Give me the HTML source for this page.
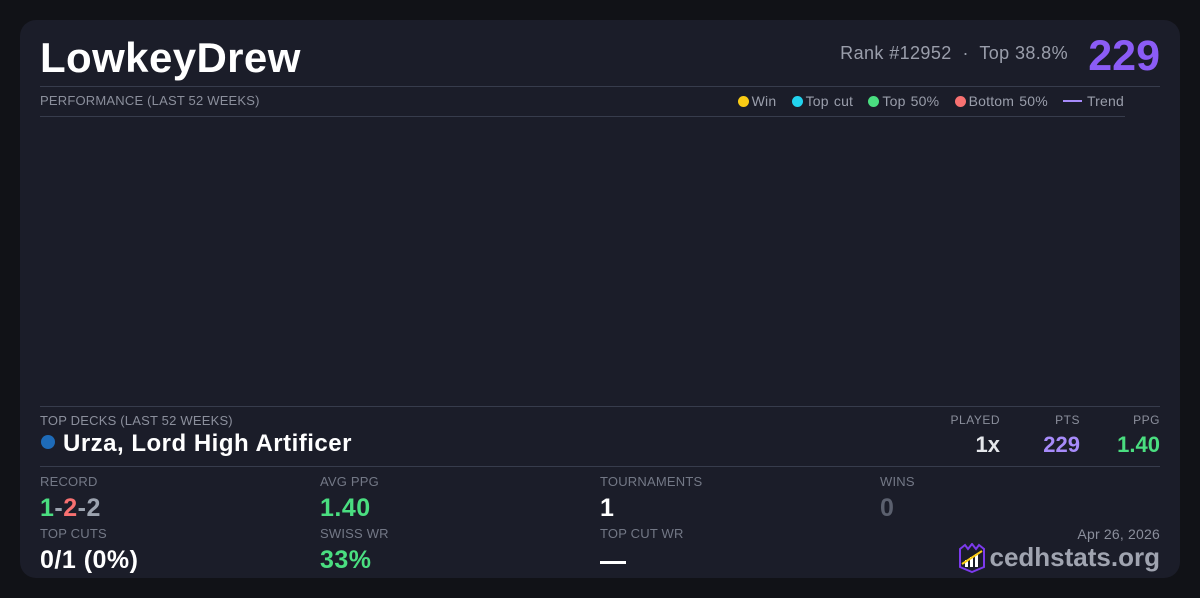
<!DOCTYPE html>
<html><head><style>
body{margin:0;width:1200px;height:598px;background:#111217;font-family:"Liberation Sans",sans-serif;position:relative;overflow:hidden}
.card{position:absolute;left:20px;top:20px;width:1160px;height:558px;background:#1b1d29;border-radius:16px}
.a{position:absolute;white-space:nowrap}
.lbl{font-size:13px;color:#8b8f9c;letter-spacing:.2px}
.hl{position:absolute;height:1px;background:#373c4c}
.v{font-size:25px;font-weight:bold;letter-spacing:.5px}
.dot{display:inline-block;width:11px;height:11px;border-radius:50%;vertical-align:-1px;margin-right:3px}
</style></head><body>
<div class="card"></div>
<div class="a" style="left:40px;top:34px;font-size:42px;font-weight:bold;color:#fff;letter-spacing:.4px">LowkeyDrew</div>
<div class="a" style="right:132px;top:43px;font-size:18px;color:#9a9eab;letter-spacing:.4px">Rank #12952 &nbsp;·&nbsp; Top 38.8%</div>
<div class="a" style="right:40px;top:32px;font-size:43px;font-weight:bold;color:#8b5cf6">229</div>
<div class="hl" style="left:40px;top:86px;width:1120px"></div>
<div class="a lbl" style="left:40px;top:93px">PERFORMANCE (LAST 52 WEEKS)</div>
<div class="a lbl" style="right:76px;top:93px;color:#9a9eab;font-size:14px;word-spacing:1px">
<span class="dot" style="background:#facc15"></span>Win &nbsp; <span class="dot" style="background:#22d3ee"></span>Top cut &nbsp; <span class="dot" style="background:#4ade80"></span>Top 50% &nbsp; <span class="dot" style="background:#f87171"></span>Bottom 50% &nbsp; <span style="display:inline-block;width:19px;height:2px;background:#a78bfa;vertical-align:4px"></span> Trend</div>
<div class="hl" style="left:40px;top:116px;width:1085px"></div>
<div class="hl" style="left:40px;top:406px;width:1120px"></div>
<div class="a lbl" style="left:40px;top:413px">TOP DECKS (LAST 52 WEEKS)</div>
<div class="a" style="left:41px;top:435px;width:14px;height:14px;border-radius:50%;background:#1e6bb8"></div>
<div class="a" style="left:63px;top:430px;font-size:24px;font-weight:bold;color:#fff;letter-spacing:.5px">Urza, Lord High Artificer</div>
<div class="a lbl" style="right:200px;top:413px;font-size:12px;letter-spacing:.5px">PLAYED</div>
<div class="a lbl" style="right:120px;top:413px;font-size:12px;letter-spacing:.5px">PTS</div>
<div class="a lbl" style="right:40px;top:413px;font-size:12px;letter-spacing:.5px">PPG</div>
<div class="a" style="right:200px;top:432px;font-size:22px;font-weight:bold;color:#e5e7eb">1x</div>
<div class="a" style="right:120px;top:432px;font-size:22px;font-weight:bold;color:#a78bfa">229</div>
<div class="a" style="right:40px;top:432px;font-size:22px;font-weight:bold;color:#4ade80">1.40</div>
<div class="hl" style="left:40px;top:466px;width:1120px"></div>
<div class="a lbl" style="left:40px;top:474px;color:#737886">RECORD</div>
<div class="a v" style="left:40px;top:494px"><span style="color:#4ade80">1</span><span style="color:#9ca3af">-</span><span style="color:#f87171">2</span><span style="color:#9ca3af">-2</span></div>
<div class="a lbl" style="left:320px;top:474px;color:#737886">AVG PPG</div>
<div class="a v" style="left:320px;top:494px;color:#4ade80">1.40</div>
<div class="a lbl" style="left:600px;top:474px;color:#737886">TOURNAMENTS</div>
<div class="a v" style="left:600px;top:494px;color:#fff">1</div>
<div class="a lbl" style="left:880px;top:474px;color:#737886">WINS</div>
<div class="a v" style="left:880px;top:494px;color:#5b606e">0</div>
<div class="a lbl" style="left:40px;top:526px;color:#737886">TOP CUTS</div>
<div class="a v" style="left:40px;top:546px;color:#fff">0/1 (0%)</div>
<div class="a lbl" style="left:320px;top:526px;color:#737886">SWISS WR</div>
<div class="a v" style="left:320px;top:546px;color:#4ade80">33%</div>
<div class="a lbl" style="left:600px;top:526px;color:#737886">TOP CUT WR</div>
<div class="a" style="left:600px;top:561px;width:26px;height:3px;background:#fff"></div>
<div class="a lbl" style="right:40px;top:526px;font-size:14px;color:#8b8f9c">Apr 26, 2026</div>
<svg class="a" style="left:957px;top:543px" width="30" height="30" viewBox="0 0 30 30"><path d="M3 6 L8 2 L11 6 L15 1 L19 6 L22 2 L27 6 L27 24 L15 29 L3 24 Z" fill="#1b1d29" stroke="#7c3aed" stroke-width="2"/><rect x="8" y="17" width="3" height="7" fill="#fff"/><rect x="13" y="14" width="3" height="10" fill="#fff"/><rect x="18" y="11" width="3" height="13" fill="#fff"/><path d="M5 21 L25 8" stroke="#facc15" stroke-width="2"/></svg>
<div class="a" style="right:40px;top:542px;font-size:26px;font-weight:bold;color:#a0a4b0">cedhstats.org</div>
</body></html>
